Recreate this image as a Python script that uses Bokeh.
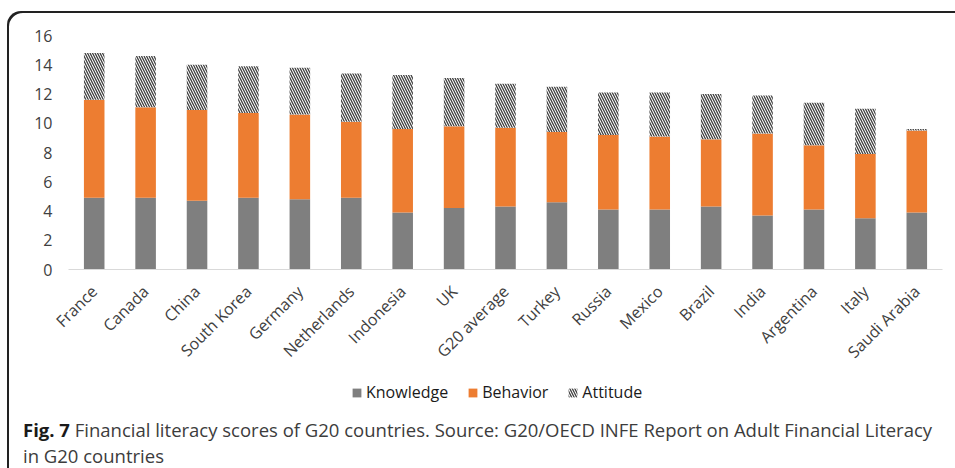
from bokeh.plotting import figure
from bokeh.models import (ColumnDataSource, FactorRange, Range1d, FixedTicker,
                          Legend, LegendItem, Div)
from bokeh.layouts import column
from bokeh.transform import stack
from bokeh.embed import file_html
from bokeh.resources import INLINE
import math

countries = ["France", "Canada", "China", "South Korea", "Germany", "Netherlands",
             "Indonesia", "UK", "G20 average", "Turkey", "Russia", "Mexico",
             "Brazil", "India", "Argentina", "Italy", "Saudi Arabia"]
knowledge = [4.9, 4.9, 4.7, 4.9, 4.8, 4.9, 3.9, 4.2, 4.3, 4.6, 4.1, 4.1, 4.3, 3.7, 4.1, 3.5, 3.9]
behavior = [6.7, 6.2, 6.2, 5.8, 5.8, 5.2, 5.7, 5.6, 5.4, 4.8, 5.1, 5.0, 4.6, 5.6, 4.4, 4.4, 5.6]
attitude = [3.2, 3.5, 3.1, 3.2, 3.2, 3.3, 3.7, 3.3, 3.0, 3.1, 2.9, 3.0, 3.1, 2.6, 2.9, 3.1, 0.1]
series = ["Knowledge", "Behavior", "Attitude"]
y_ticks = [0, 2, 4, 6, 8, 10, 12, 14, 16]
caption_bold = "Fig. 7"
caption_line1 = "Financial literacy scores of G20 countries. Source: G20/OECD INFE Report on Adult Financial Literacy"
caption_line2 = "in G20 countries"

FONT = "Open Sans"
GRAY, ORANGE = "#7f7f7f", "#ed7d31"
HATCH = dict(fill_color="white", hatch_pattern="left_diagonal_line",
             hatch_color="#404040", hatch_scale=5, hatch_weight=1.3)
W = 0.4

src = ColumnDataSource(dict(country=countries, Knowledge=knowledge,
                            Behavior=behavior, Attitude=attitude))


def add_bars(fig):
    r1 = fig.vbar(x="country", bottom=0, top=stack(series[0]), width=W, source=src,
                  fill_color=GRAY, line_color=None)
    r2 = fig.vbar(x="country", bottom=stack(series[0]), top=stack(series[0], series[1]),
                  width=W, source=src, fill_color=ORANGE, line_color=None)
    r3 = fig.vbar(x="country", bottom=stack(series[0], series[1]),
                  top=stack(*series), width=W, source=src, line_color=None, **HATCH)
    return r1, r2, r3


# ---------------- main chart ----------------
p = figure(x_range=FactorRange(factors=countries), y_range=Range1d(0, 16),
           width=948, height=369, output_backend="svg", toolbar_location=None,
           min_border_left=61, min_border_right=13, min_border_top=24,
           min_border_bottom=111)
p.outline_line_color = None
p.background_fill_color = None
p.border_fill_color = None
p.xgrid.visible = False
p.ygrid.visible = False
p.x_range.range_padding = 0
add_bars(p)

p.yaxis.ticker = FixedTicker(ticks=y_ticks)
p.yaxis.axis_line_color = None
p.yaxis.major_tick_line_color = None
p.yaxis.minor_tick_line_color = None
p.yaxis.major_tick_out = 0
p.yaxis.major_label_standoff = 16
p.yaxis.major_label_text_font = FONT
p.yaxis.major_label_text_font_size = "16px"
p.yaxis.major_label_text_color = "#404040"

p.xaxis.axis_line_color = "#d9d9d9"
p.xaxis.axis_line_width = 1
p.xaxis.major_tick_line_color = None
p.xaxis.major_tick_out = 0
p.xaxis.major_label_orientation = math.pi / 4
p.xaxis.major_label_standoff = 19
p.xaxis.major_label_text_font = FONT
p.xaxis.major_label_text_font_size = "16px"
p.xaxis.major_label_text_color = "#404040"

# ---------------- legend strip (bars out of view; only the legend shows) ----------------
lg = figure(width=948, height=32, output_backend="svg", toolbar_location=None,
            x_axis_type=None, y_axis_type=None,
            x_range=FactorRange(factors=countries), y_range=Range1d(100, 101),
            min_border_left=61, min_border_right=13,
            min_border_top=0, min_border_bottom=0)
lg.outline_line_color = None
lg.background_fill_color = None
lg.border_fill_color = None
lg.xgrid.visible = False
lg.ygrid.visible = False
k_r, b_r, a_r = add_bars(lg)
legend = Legend(items=[LegendItem(label=series[0], renderers=[k_r]),
                       LegendItem(label=series[1], renderers=[b_r]),
                       LegendItem(label=series[2], renderers=[a_r])],
                orientation="horizontal", location=(283, 9), margin=0,
                glyph_width=11, glyph_height=11, label_standoff=4, spacing=19,
                padding=0, border_line_color=None,
                background_fill_alpha=0, label_text_font=FONT,
                label_text_font_size="16px", label_text_color="#1a1a1a")
lg.add_layout(legend, "center")

# ---------------- caption ----------------
caption_html = (
    '<div style="font-family:\'Open Sans\';font-size:18.5px;line-height:26px;'
    'color:#3c3c3c;padding-left:11px;white-space:nowrap;">'
    '<b style="color:#1a1a1a">' + caption_bold + '</b> ' + caption_line1 +
    '<br>' + caption_line2 + '</div>'
)
cap = Div(text=caption_html, width=948, height=54,
          styles={"overflow": "hidden"})

layout = column(p, lg, cap, margin=(11, 0, 0, 7), spacing=0,
                styles={"box-shadow": "inset 2px 2px 0 0 #222222",
                        "border-top-left-radius": "14px"})

open("out.html", "w").write(file_html(layout, INLINE))
